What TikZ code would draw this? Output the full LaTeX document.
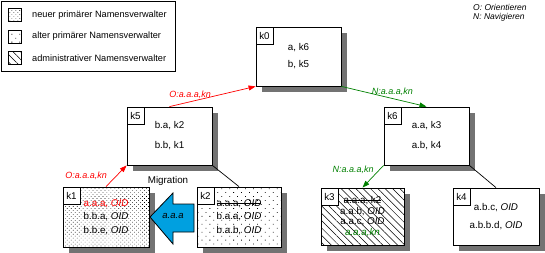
\documentclass[tikz,border=0pt]{standalone}
\usepackage{fontspec}
\setmainfont{Liberation Sans}
\usetikzlibrary{arrows.meta,patterns.meta,shadows}
\definecolor{ngreen}{RGB}{0,128,0}
\definecolor{nred}{RGB}{255,0,0}
\definecolor{migblue}{RGB}{0,160,224}
\newsavebox\strkbox
\newcommand\strk[1]{\sbox\strkbox{#1}\rlap{\rule[0.3em]{\wd\strkbox}{0.6pt}}\usebox\strkbox}
\tikzset{
  fnt/.style={font=\fontsize{9.8}{11.8}\selectfont},
  legfnt/.style={font=\fontsize{9.2}{11}\selectfont},
  kbox/.style={draw, line width=0.8pt, fill=white,
    drop shadow={shadow xshift=6pt, shadow yshift=-6pt, fill=black!55, opacity=1},
    align=center, fnt, inner sep=0pt},
  klabel/.style={draw, line width=0.8pt, fill=white, minimum size=17pt, inner sep=0pt, anchor=north west, fnt},
  swatch/.style={draw, line width=0.8pt, fill=white, minimum size=13pt, inner sep=0pt},
  densedots/.style={postaction={pattern={Dots[distance=2.8pt, angle=45, radius=0.45pt]}}},
  sparsedots/.style={postaction={pattern={Dots[distance=5.6pt, angle=45, radius=0.55pt]}}},
  hatch/.style={postaction={pattern={Lines[angle=-45, distance=5.2pt, line width=0.5pt]}}},
  conn/.style={line width=0.7pt, -{Triangle[length=7pt,width=5pt]}},
  elabel/.style={font=\fontsize{9}{11}\selectfont\itshape, inner sep=1pt},
  plain/.style={line width=0.7pt}
}
\begin{document}
\begin{tikzpicture}[x=1pt,y=-1pt]
\useasboundingbox (0,0) rectangle (545,252);

% legend
\node[draw, line width=0.8pt, minimum width=174pt, minimum height=70pt, anchor=north west, inner sep=0pt] (legend) at (1,1) {};
\node[swatch, densedots] (sw1) at (14.5,14.5) {};
\node[swatch, sparsedots] (sw2) at (14.5,36.5) {};
\node[swatch, hatch] (sw3) at (14.5,58) {};
\node[legfnt, anchor=west, inner sep=0pt] (lt1) at (32,15) {neuer primärer Namensverwalter};
\node[legfnt, anchor=west, inner sep=0pt] (lt2) at (32,36.5) {alter primärer Namensverwalter};
\node[legfnt, anchor=west, inner sep=0pt] (lt3) at (32,58) {administrativer Namensverwalter};

% key top right
\node[anchor=west, inner sep=0pt, font=\fontsize{8.5}{10}\selectfont\itshape] (ko) at (473,7) {O: Orientieren};
\node[anchor=west, inner sep=0pt, font=\fontsize{8.5}{10}\selectfont\itshape] (kn) at (473,17) {N: Navigieren};

% boxes
\node[kbox, minimum width=85pt, minimum height=59pt] (k0) at (298.5,56.5) {a, k6\\[5.2pt]b, k5};
\node[kbox, minimum width=85pt, minimum height=58pt] (k5) at (169.5,136) {b.a, k2\\[8.2pt]b.b, k1};
\node[kbox, minimum width=85pt, minimum height=58pt] (k6) at (426.5,136) {a.a, k3\\[8.2pt]a.b, k4};
\node[kbox, densedots, minimum width=86pt, minimum height=60pt] (k1) at (106,217)
  {\textcolor{nred}{a.a.a, \textit{OID}}\\[1.7pt]b.b.a, \textit{OID}\\[1.7pt]b.b.e, \textit{OID}};
\node[kbox, sparsedots, minimum width=84pt, minimum height=60pt] (k2) at (239,217)
  {\strk{a.a.a, \textit{OID}}\\[1.7pt]b.a.a, \textit{OID}\\[1.7pt]b.a.b, \textit{OID}};
\node[kbox, hatch, minimum width=83pt, minimum height=57pt] (k3) at (362.5,216.5)
  {\strk{a.a.a, k2}\\[-1.1pt]a.a.b, \textit{OID}\\[-1.1pt]a.a.c, \textit{OID}\\[-1.1pt]\textcolor{ngreen}{\textit{a.a.a,kn}}};
\node[kbox, minimum width=86pt, minimum height=57pt] (k4) at (496,216.5) {a.b.c, \textit{OID}\\[6.2pt]a.b.b.d, \textit{OID}};

% corner labels
\node[klabel] (k0l) at (k0.north west) {k0};
\node[klabel] (k5l) at (k5.north west) {k5};
\node[klabel] (k6l) at (k6.north west) {k6};
\node[klabel] (k1l) at (k1.north west) {k1};
\node[klabel] (k2l) at (k2.north west) {k2};
\node[klabel] (k3l) at (k3.north west) {k3};
\node[klabel] (k4l) at (k4.north west) {k4};

% connectors
\draw[conn, nred] (k5.north) -- node[elabel, pos=0.24, above=2pt] {O:a.a.a,kn} (k0.south west);
\draw[conn, ngreen] (k0.south east) -- node[elabel, pos=0.6, above=2pt] {N:a.a.a,kn} (k6.north);
\draw[conn, nred] (k1.north) -- node[elabel, pos=0.5, anchor=east, xshift=-8pt] {O:a.a.a,kn} (k5.south west);
\draw[conn, ngreen] (k6.south west) -- node[elabel, pos=0.22, anchor=east, xshift=-4pt] {N:a.a.a,kn} (k3.north);
\draw[plain] (k5.south east) -- (k2.north);
\draw[plain] (k6.south east) -- (k4.north);

% migration arrow
\draw[line width=0.8pt, fill=migblue] (150,217) -- (173,193) -- (173,204) -- (194,204) -- (194,232) -- (173,232) -- (173,244) -- cycle;
\node[font=\fontsize{9.5}{11}\selectfont\itshape, inner sep=0pt] (mig) at (173,216) {a.a.a};
\node[fnt, inner sep=0pt] (migl) at (168,181) {Migration};
\end{tikzpicture}
\end{document}
